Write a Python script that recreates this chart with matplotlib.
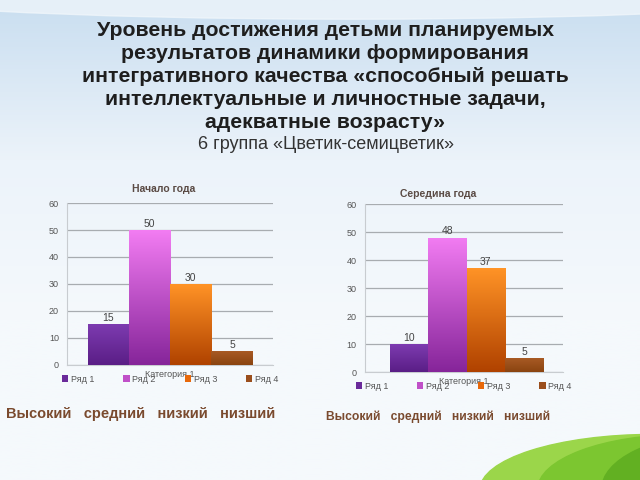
import numpy as np
import matplotlib
matplotlib.use('Agg')
from matplotlib import pyplot as plt
from matplotlib.patches import Ellipse, Patch

plt.rcParams['font.family'] = ['Liberation Sans', 'DejaVu Sans']

# данные
series = ['Ряд 1', 'Ряд 2', 'Ряд 3', 'Ряд 4']
start_vals = [15, 50, 30, 5]
mid_vals = [10, 48, 37, 5]
levels = ['Высокий', 'средний', 'низкий', 'низший']
title_lines = 'Уровень достижения детьми планируемых\nрезультатов динамики формирования\nинтегративного качества «способный решать\nинтеллектуальные и личностные задачи,\nадекватные возрасту»'
subtitle = '6 группа «Цветик-семицветик»'

# цвета столбцов: верх / низ градиента
top_cols = ['#7d3bb0', '#f27cf2', '#ff9326', '#a85a24']
bot_cols = ['#5a1e86', '#86259a', '#b04200', '#8a4410']
legend_cols = ['#6a2a9a', '#c050c8', '#e8680a', '#9a4e1c']

fig = plt.figure(figsize=(6.4, 4.8), dpi=100)

# фон слайда
bg = fig.add_axes([0, 0, 1, 1], zorder=-10)
grad = np.linspace(0, 1, 256).reshape(-1, 1)
bg.imshow(grad, extent=[0, 1, 0, 1], aspect='auto',
          cmap=matplotlib.colors.LinearSegmentedColormap.from_list('bg', ['#c9def0', '#ecf3fa', '#f5f9fc', '#f5f9fc']),
          origin='upper')
bg.add_patch(Ellipse((0.55, 1.02), 1.6, 0.12, color='#f3f8fc', alpha=0.7))
# зелёный холм
for cx, w, c in [(1.02, 0.54, '#9bd64a'), (1.07, 0.46, '#7cc630'), (1.12, 0.36, '#62b022'), (1.17, 0.24, '#4e9a18')]:
    bg.add_patch(Ellipse((cx, -0.02), w, 0.23, color=c))
bg.set_xlim(0, 1)
bg.set_ylim(0, 1)
bg.axis('off')

fig.text(0.508, 0.956, title_lines, ha='center', va='top', fontsize=15.3,
         fontweight='bold', color='#1e1e1e', linespacing=1.26,
         family=['Liberation Sans Narrow', 'Liberation Sans'])
fig.text(0.51, 0.698, subtitle, ha='center', va='center', fontsize=13,
         color='#333333', family=['Liberation Sans Narrow', 'Liberation Sans'])


def draw_chart(rect, vals, title, title_x, xlim, pad):
    ax = fig.add_axes(rect)
    ax.set_facecolor('none')
    x = np.arange(len(vals))
    bars = ax.bar(x, vals, width=1.0, color='none', zorder=3)
    for b, t, bt in zip(bars, top_cols, bot_cols):
        x0, w, h = b.get_x(), b.get_width(), b.get_height()
        cm = matplotlib.colors.LinearSegmentedColormap.from_list('b', [t, bt])
        img = ax.imshow(np.linspace(0, 1, 100).reshape(-1, 1), cmap=cm, aspect='auto',
                        extent=[x0, x0 + w, 0, h], origin='upper', zorder=3)
        img.set_clip_path(b)
        ax.text(x0 + w / 2, h + 0.4, str(int(h)), ha='center', va='bottom',
                fontsize=7.5, color='#444444')
    ax.set_xlim(*xlim)
    ax.set_ylim(0, 60)
    ax.set_yticks(range(0, 61, 10))
    ax.yaxis.grid(True, color='#a8acb0', lw=0.9, zorder=0)
    ax.set_xticks([])
    for s in ['top', 'right']:
        ax.spines[s].set_visible(False)
    ax.spines['left'].set_color('#c8ccd0')
    ax.spines['bottom'].set_color('#c8ccd0')
    ax.tick_params(axis='y', length=0, labelsize=6.5, labelcolor='#555555', pad=6)
    ax.set_title(title, fontsize=7.5, fontweight='bold', color='#5a4a44',
                 x=title_x, pad=pad)
    handles = [Patch(facecolor=c) for c in legend_cols]
    ax.legend(handles, series, loc='upper center', bbox_to_anchor=(0.5, -0.01),
              ncol=4, frameon=False, fontsize=6.5, handlelength=0.7, handleheight=0.7,
              handletextpad=0.3, columnspacing=3.2, labelcolor='#555555')
    ax.text(0.5, -0.03, 'Категория 1', transform=ax.transAxes, ha='center',
            va='top', fontsize=6.5, color='#555555')
    return ax


draw_chart([0.105, 0.24, 0.322, 0.337], start_vals, 'Начало года', 0.47, (-1.0, 4.0), 8)
draw_chart([0.570, 0.225, 0.309, 0.35], mid_vals, 'Середина года', 0.37, (-1.15, 4.0), 5)

fig.text(0.22, 0.137, '   '.join(levels), ha='center', va='center', fontsize=10.5,
         fontweight='bold', color='#7a4a2e')
fig.text(0.684, 0.131, '   '.join(levels), ha='center', va='center', fontsize=8.7,
         fontweight='bold', color='#7a4a2e')

fig.savefig('out.png', dpi=100)
